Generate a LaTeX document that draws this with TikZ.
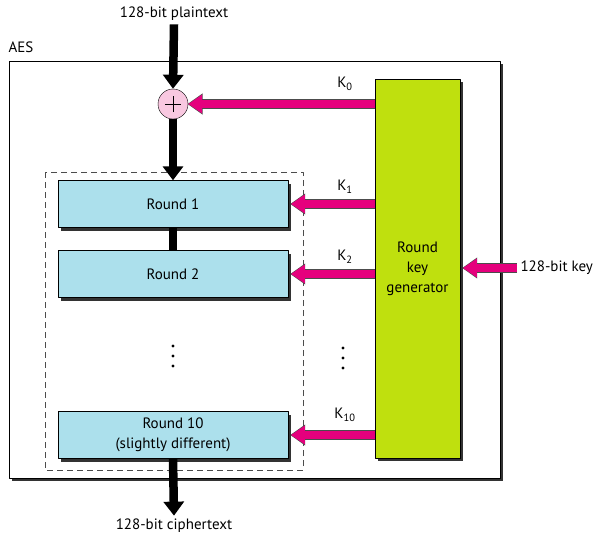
\documentclass[tikz,border=0pt]{standalone}
\usepackage{fontspec}
\setmainfont{PT Sans}
\usetikzlibrary{arrows.meta,shadows}

\definecolor{roundblue}{HTML}{ACE0EC}
\definecolor{keygreen}{HTML}{BFE00E}
\definecolor{keypink}{HTML}{E5007D}
\definecolor{xorpink}{HTML}{F8C8E0}

\tikzset{
  shadowed/.style={drop shadow={shadow xshift=3pt, shadow yshift=-3pt, fill=black!80, opacity=1}},
  roundbox/.style={draw, fill=roundblue, shadowed, minimum width=230pt, minimum height=47pt, inner sep=0pt, align=center},
  datapath/.style={line width=8.5pt, -{Triangle[length=14pt, width=20pt]}},
  keypath/.style={line width=8pt, draw=keypink, -{Triangle[length=14pt, width=18pt]}},
  keyedge/.style={line width=9.4pt, draw=black!70, -{Triangle[length=15pt, width=20pt]}}
}

\begin{document}
\begin{tikzpicture}[x=1pt, y=-1pt, line join=round, font=\fontsize{15}{20}\selectfont]
    \useasboundingbox (0,0) rectangle (602,539);

    % outer box
    \draw[shadowed, fill=white, line width=0.9pt] (9,61) rectangle (500,478);
    \node[anchor=west] (aes) at (5,47) {AES};

    % rounds
    \draw[dashed, dash pattern=on 6pt off 4pt, black!70] (45,172) rectangle (303,470);
    \node[roundbox] (r1) at (173,204) {Round 1};
    \node[roundbox] (r2) at (173,274) {Round 2};
    \node[roundbox] (r10) at (173,435) {Round 10\\(slightly different)};
    \foreach \y in {346,356,366}
        \fill (173,\y) circle (1.6);
    \foreach \y in {348,358,368}
        \fill (343,\y) circle (1.6);

    % key generator
    \node[draw, fill=keygreen, shadowed, minimum width=85pt, minimum height=379pt, inner sep=0pt, align=center] (gen) at (417.5,268.5) {Round\\key\\generator};

    \node[circle, draw, fill=xorpink, minimum size=30pt, inner sep=0pt,
          path picture={\draw[line width=0.9pt] ([xshift=-8pt]path picture bounding box.center) -- ([xshift=8pt]path picture bounding box.center);
                        \draw[line width=0.9pt] ([yshift=-8pt]path picture bounding box.center) -- ([yshift=8pt]path picture bounding box.center);}] (xor) at (173,104) {};

    \node (plain) at (174,14) {128-bit plaintext};
    \node (cipher) at (174,526) {128-bit ciphertext};
    \node[anchor=west] (key) at (517,268) {128-bit key};

    \node (k0) at (345,84) {K\textsubscript{0}};
    \node (k1) at (345,187) {K\textsubscript{1}};
    \node (k2) at (345,257) {K\textsubscript{2}};
    \node (k10) at (345,415) {K\textsubscript{10}};

    % data path
    \draw[datapath] (plain.south) -- (xor.north);
    \draw[datapath] (xor.south) -- (r1.north);
    \draw[line width=8.5pt] (r1.south) -- (r2.north);
    \draw[datapath] (r10.south) -- (cipher.north);

    % keys
    \draw[keyedge] (gen.west |- xor) -- ([xshift=-0.7pt]xor.east);
    \draw[keypath] (gen.west |- xor) -- (xor.east);
    \draw[keyedge] (gen.west |- r1) -- ([xshift=2pt]r1.east);
    \draw[keypath] (gen.west |- r1) -- ([xshift=2.7pt]r1.east);
    \draw[keyedge] (gen.west |- r2) -- ([xshift=2pt]r2.east);
    \draw[keypath] (gen.west |- r2) -- ([xshift=2.7pt]r2.east);
    \draw[keyedge] (gen.west |- r10) -- ([xshift=2pt]r10.east);
    \draw[keypath] (gen.west |- r10) -- ([xshift=2.7pt]r10.east);
    \draw[keyedge] (key.west) -- ([xshift=2pt]gen.east |- key);
    \draw[keypath] (key.west) -- ([xshift=2.7pt]gen.east |- key);
\end{tikzpicture}
\end{document}
